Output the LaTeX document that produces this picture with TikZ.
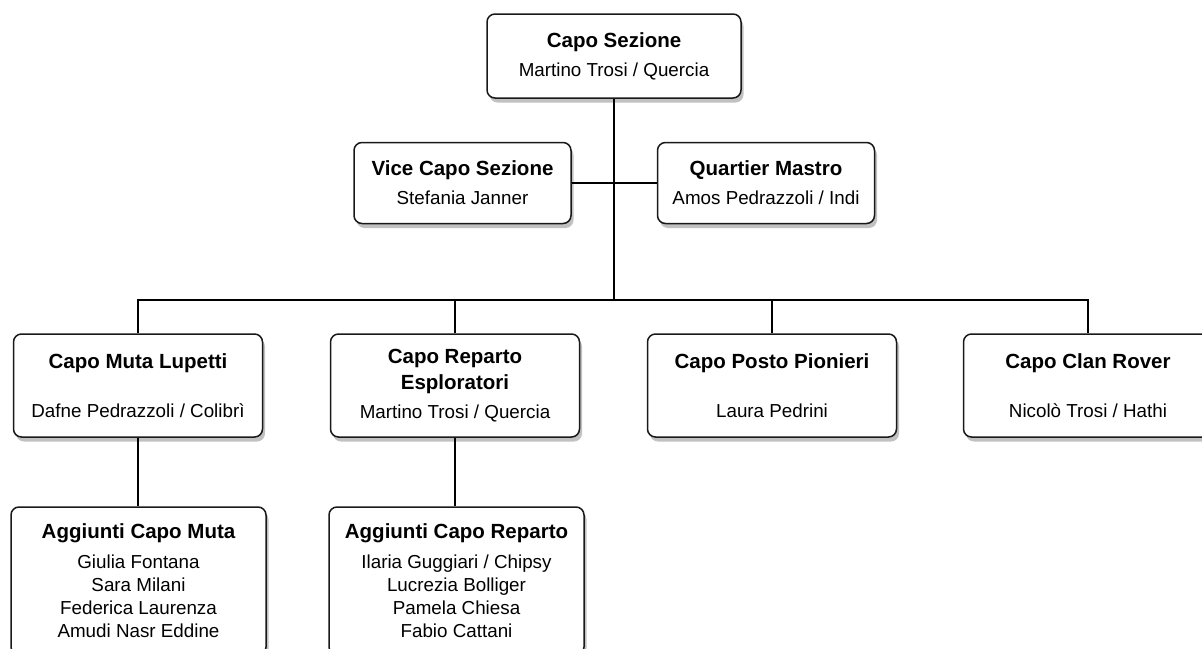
\documentclass[tikz,border=0pt]{standalone}
\usepackage{fontspec}
\setmainfont{Liberation Sans}
\usepackage{tikz}
\usetikzlibrary{shadows}

\newcommand{\ruolo}[1]{{\fontsize{20.5}{26}\selectfont\bfseries #1}}

\tikzset{
  unit/.style={draw=black!90, line width=1.5pt, rounded corners=8pt, fill=white,
    align=center, inner sep=0pt,
    font=\fontsize{18.8}{23}\selectfont,
    drop shadow={shadow xshift=2.5pt, shadow yshift=-4.5pt, opacity=0.4, fill=black!60}},
  top/.style={unit, minimum width=254pt, minimum height=84pt},
  staff/.style={unit, minimum width=217pt, minimum height=81pt},
  branca/.style={unit, minimum width=249pt, minimum height=103pt},
  aiuti/.style={unit, minimum width=255pt, minimum height=148pt},
  link/.style={line width=2.3pt, black}
}

\begin{document}
\begin{tikzpicture}[x=1pt, y=-1pt]
\useasboundingbox[fill=white] (0,0) rectangle (1202,648);

% vertice
\node[top] (capo) at (614,56) {\ruolo{Capo Sezione}\\[6pt]Martino Trosi / Quercia};
\node[staff] (vice) at (462.5,183) {\ruolo{Vice Capo Sezione}\\[6pt]Stefania Janner};
\node[staff] (qm) at (766,183) {\ruolo{Quartier Mastro}\\[6pt]Amos Pedrazzoli / Indi};

% branche
\node[branca] (lupetti) at (138,385.5) {\ruolo{Capo Muta Lupetti}\\[26pt]Dafne Pedrazzoli / Colibrì};
\node[branca] (esplo) at (455,385.5) {\ruolo{Capo Reparto}\\[3pt]\ruolo{Esploratori}\\[6pt]Martino Trosi / Quercia};
\node[branca] (pionieri) at (772,385.5) {\ruolo{Capo Posto Pionieri}\\[26pt]Laura Pedrini};
\node[branca] (rover) at (1088,385.5) {\ruolo{Capo Clan Rover}\\[26pt]Nicolò Trosi / Hathi};

% aiuti
\node[aiuti] (aiutimuta) at (138.5,581) {\ruolo{Aggiunti Capo Muta}\\[7pt]Giulia Fontana\\Sara Milani\\Federica Laurenza\\Amudi Nasr Eddine};
\node[aiuti] (aiutirep) at (456.5,581) {\ruolo{Aggiunti Capo Reparto}\\[7pt]Ilaria Guggiari / Chipsy\\Lucrezia Bolliger\\Pamela Chiesa\\Fabio Cattani};

% collegamenti
\coordinate (bus) at (614,300);
\draw[link] (capo.south) -- (bus);
\draw[link] (vice.east) -- (qm.west);
\draw[link] (lupetti.north) |- (bus) -| (rover.north);
\draw[link] (esplo.north) -- (esplo.north |- bus);
\draw[link] (pionieri.north) -- (pionieri.north |- bus);
\draw[link] (lupetti.south) -- (aiutimuta.north -| lupetti.south);
\draw[link] (esplo.south) -- (aiutirep.north -| esplo.south);
\end{tikzpicture}
\end{document}
